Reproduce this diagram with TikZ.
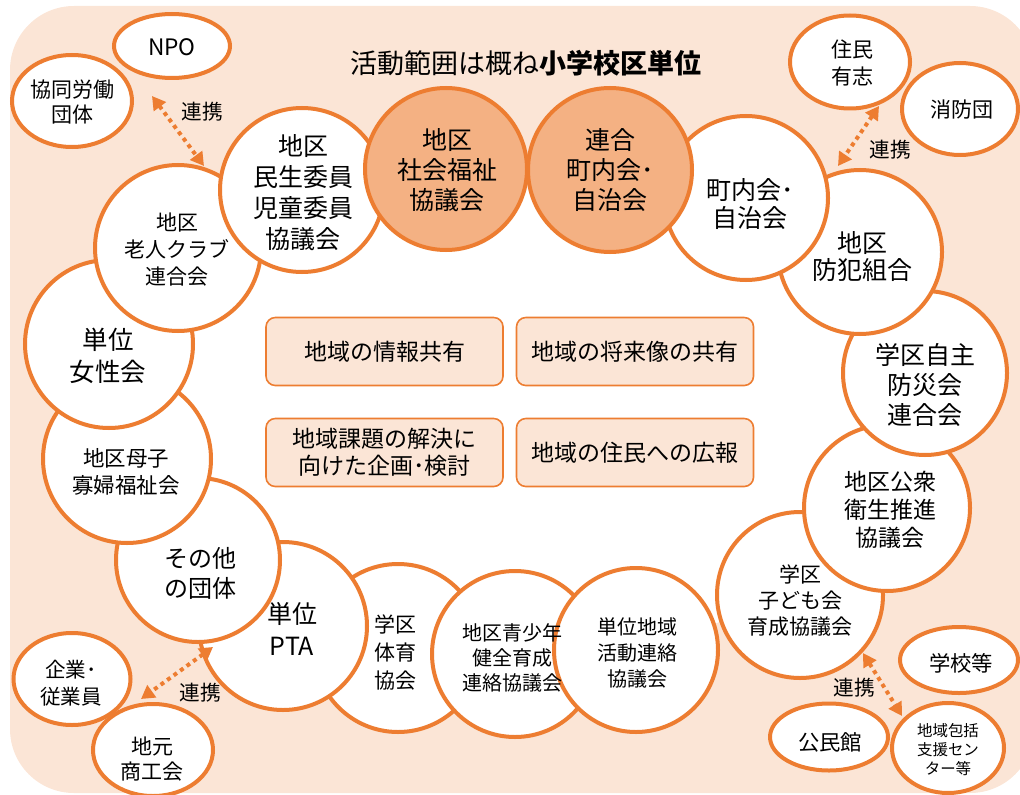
\documentclass[tikz,border=0pt]{standalone}
\usepackage{fontspec}
\setmainfont{Noto Sans CJK JP}
\usetikzlibrary{shapes.geometric,arrows.meta}
\definecolor{orng}{HTML}{ED7D31}
\definecolor{peach}{HTML}{FBE5D6}
\definecolor{salmon}{HTML}{F4B183}
\newcommand\myfs[2]{\fontsize{#1pt}{#2pt}\selectfont}
\begin{document}
\begin{tikzpicture}[x=0.75pt,y=-0.75pt,
 circ/.style={circle,draw=orng,line width=3pt,fill=white,minimum size=#1*1.5pt,inner sep=0pt},
 ell/.style args={#1/#2}{ellipse,draw=orng,line width=3pt,fill=white,minimum width=#1*0.75pt,minimum height=#2*0.75pt,inner sep=0pt},
 txt/.style={align=center,inner sep=0pt,text=black},
 box/.style={draw=orng,line width=1.2pt,fill=peach,rounded corners=7pt,minimum width=237*0.75pt,minimum height=68*0.75pt,inner sep=0pt,align=center,font=\myfs{17.25}{20.25}},
 link/.style={draw=orng,line width=3pt,dash pattern=on 3pt off 3pt,{Triangle[length=10pt,width=11pt]}-{Triangle[length=10pt,width=11pt]}},
 lbl/.style={txt,font=\myfs{15.5}{18}},
]
\useasboundingbox (0,0) rectangle (1020,795);
\fill[peach,rounded corners=48pt] (10,6) rectangle (1034,793);

% ring centres
\coordinate (c1) at (302,190);
\coordinate (c2) at (446,169);
\coordinate (c3) at (610,170);
\coordinate (c4) at (746,198);
\coordinate (c5) at (860,252);
\coordinate (c6) at (925,373);
\coordinate (c7) at (887,508);
\coordinate (c8) at (800,595);
\coordinate (c9) at (636,650);
\coordinate (c10) at (515,654);
\coordinate (c11) at (398,648);
\coordinate (c12) at (283,626);
\coordinate (c13) at (198,560);
\coordinate (c14) at (127,459);
\coordinate (c15) at (109,344);
\coordinate (c16) at (178,248);
\fill[white] (c1)--(c2)--(c3)--(c4)--(c5)--(c6)--(c7)--(c8)--(c9)--(c10)--(c11)--(c12)--(c13)--(c14)--(c15)--(c16)--cycle;

% circles, bottom to top
\node[circ=84] (n11) at (c11) {};
\node[circ=83] (n10) at (c10) {};
\node[circ=82] (n9) at (c9) {};
\node[circ=83] (n8) at (c8) {};
\node[circ=83] (n7) at (c7) {};
\node[circ=82] (n6) at (c6) {};
\node[circ=82] (n5) at (c5) {};
\node[circ=82] (n4) at (c4) {};
\node[circ=82,fill=salmon] (n3) at (c3) {};
\node[circ=84] (n12) at (c12) {};
\node[circ=82] (n13) at (c13) {};
\node[circ=84] (n14) at (c14) {};
\node[circ=84] (n15) at (c15) {};
\node[circ=83] (n16) at (c16) {};
\node[circ=82] (n1) at (c1) {};
\node[circ=81,fill=salmon] (n2) at (c2) {};

% circle texts
\node[txt,font=\myfs{18.75}{23.25}] (t1) at (303,193) {地区\\民生委員\\児童委員\\協議会};
\node[txt,font=\myfs{18.75}{22.5}] (t2) at (447,170) {地区\\社会福祉\\協議会};
\node[txt,font=\myfs{18.75}{22.5}] (t3) at (610,170) {連合\\町内会･\\自治会};
\node[txt,font=\myfs{18.75}{21}] (t4) at (750,204) {町内会･\\自治会};
\node[txt,font=\myfs{18.75}{20.25}] (t5) at (862,257) {地区\\防犯組合};
\node[txt,font=\myfs{18.75}{22.5}] (t6) at (925,385) {学区自主\\防災会\\連合会};
\node[txt,font=\myfs{17.25}{21}] (t7) at (890,510) {地区公衆\\衛生推進\\協議会};
\node[txt,font=\myfs{15.75}{19.5}] (t8) at (800,601) {学区\\子ども会\\育成協議会};
\node[txt,font=\myfs{15}{19.5}] (t9) at (637,653) {単位地域\\活動連絡\\協議会};
\node[txt,font=\myfs{15}{18.75}] (t10) at (512,658) {地区青少年\\健全育成\\連絡協議会};
\node[txt,font=\myfs{15.75}{21}] (t11) at (395,652) {学区\\体育\\協会};
\node[txt,font=\myfs{18.75}{24}] (t12) at (292,629) {単位\\PTA};
\node[txt,font=\myfs{18}{22.5}] (t13) at (200,573) {その他\\の団体};
\node[txt,font=\myfs{16.1}{20.25}] (t14) at (126,472) {地区母子\\寡婦福祉会};
\node[txt,font=\myfs{19.1}{24}] (t15) at (108,356) {単位\\女性会};
\node[txt,font=\myfs{15.75}{20.25}] (t16) at (177,250) {地区\\老人クラブ\\連合会};

% outer ellipses
\node[ell=116/64] (npo) at (172,46) {};
\node[txt,font=\myfs{17}{20}] (npot) at (172,47) {NPO};
\node[ell=120/92] (kyo) at (72,101) {};
\node[txt,font=\myfs{15.75}{18.75}] (kyot) at (72,102) {協同労働\\団体};
\node[ell=120/93] (jum) at (850,62) {};
\node[txt,font=\myfs{15.75}{20.25}] (jumt) at (852,63) {住民\\有志};
\node[ell=116/92] (sho) at (960,109) {};
\node[txt,font=\myfs{15.75}{18}] (shot) at (962,110) {消防団};
\node[ell=117/92] (kig) at (72,679) {};
\node[txt,font=\myfs{15.4}{20.25}] (kigt) at (71,683) {企業･\\従業員};
\node[ell=120/92] (jim) at (153,750) {};
\node[txt,font=\myfs{15.75}{18.75}] (jimt) at (152,759) {地元\\商工会};
\node[ell=118/66] (gak) at (959,660) {};
\node[txt,font=\myfs{16}{18}] (gakt) at (961,663) {学校等};
\node[ell=118/67] (kou) at (829,737) {};
\node[txt,font=\myfs{16}{18}] (kout) at (830,742) {公民館};
\node[ell=112/90] (hok) at (948,748) {};
\node[txt,font=\myfs{11.6}{14.25}] (hokt) at (948,750) {地域包括\\支援セン\\ター等};

% links
\coordinate (a1s) at (152,96);
\coordinate (a1e) at (204,166);
\coordinate (a2s) at (879,106);
\coordinate (a2e) at (838,166);
\coordinate (a3s) at (213,647);
\coordinate (a3e) at (141,699);
\coordinate (a4s) at (863,653);
\coordinate (a4e) at (902,716);
\draw[link] (a1s) -- (a1e);
\draw[link] (a2s) -- (a2e);
\draw[link] (a3s) -- (a3e);
\draw[link] (a4s) -- (a4e);
\node[lbl] (l1) at (202,112) {連携};
\node[lbl] (l2) at (890,150) {連携};
\node[lbl] (l3) at (200,693) {連携};
\node[lbl] (l4) at (854,688) {連携};

% central boxes
\node[box] (b1) at (384.5,351.5) {地域の情報共有};
\node[box] (b2) at (635,351.5) {地域の将来像の共有};
\node[box] (b3) at (384.5,452.5) {地域課題の解決に\\向けた企画･検討};
\node[box] (b4) at (635,452.5) {地域の住民への広報};

% title
\node[txt,font=\myfs{20.25}{24}] (title) at (526,63) {活動範囲は概ね\textbf{小学校区単位}};
\end{tikzpicture}
\end{document}
